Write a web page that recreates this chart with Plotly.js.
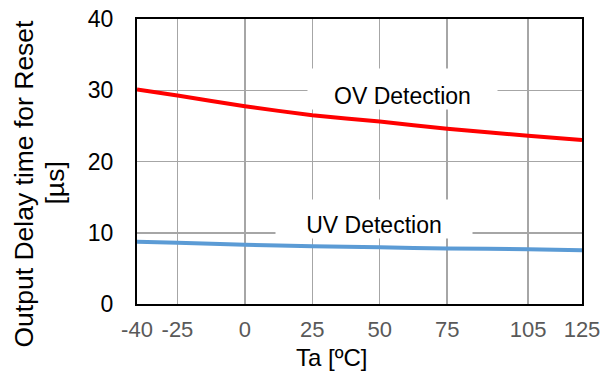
<!DOCTYPE html>
<html><head><meta charset="utf-8">
<script src="https://cdn.plot.ly/plotly-3.0.1.min.js"></script>
<style>html,body{margin:0;padding:0;background:#fff;}</style>
</head><body>
<div id="chart" style="width:606px;height:372px;"></div>
<script>
const temps = [-40, -25, 0, 25, 50, 75, 105, 125];
const ovDelay = [30.1, 29.25, 27.75, 26.5, 25.6, 24.6, 23.6, 23.0];
const uvDelay = [8.75, 8.6, 8.3, 8.1, 7.95, 7.8, 7.7, 7.55];
const xTickVals = [-40, -25, 0, 25, 50, 75, 105, 125];
const xTickText = ['-40', '-25', '0', '25', '50', '75', '105', '125'];
const yTickVals = [0, 10, 20, 30, 40];
const ovLabel = 'OV Detection';
const uvLabel = 'UV Detection';
const yTitleLine1 = 'Output Delay time for Reset';
const yTitleLine2 = '[µs]';
const xTitle = 'Ta [ºC]';

const font = 'Liberation Sans, Arial, sans-serif';
const traces = [
  {x: temps, y: ovDelay, type: 'scatter', mode: 'lines', line: {color: '#ff0000', width: 4, shape: 'spline', smoothing: 0.5}, hoverinfo: 'skip'},
  {x: temps, y: uvDelay, type: 'scatter', mode: 'lines', line: {color: '#5b9bd5', width: 4, shape: 'spline', smoothing: 0.5}, hoverinfo: 'skip'}
];
const layout = {
  width: 606, height: 372,
  margin: {l: 137, r: 24, t: 19, b: 68},
  paper_bgcolor: '#fff', plot_bgcolor: '#fff',
  showlegend: false,
  font: {family: font, size: 22, color: '#000'},
  xaxis: {
    range: [-40, 125], tickvals: xTickVals, ticktext: xTickText,
    showgrid: true, gridcolor: '#a6a6a6', gridwidth: 1.5,
    showline: true, linecolor: '#000', linewidth: 2, mirror: true,
    ticks: '', ticklabelstandoff: 5,
    tickfont: {family: font, size: 22, color: '#595959'},
    zeroline: false
  },
  yaxis: {
    range: [0, 40], tickvals: yTickVals,
    showgrid: true, gridcolor: '#a6a6a6', gridwidth: 1.5,
    showline: true, linecolor: '#000', linewidth: 2, mirror: true,
    ticks: '', ticklabelstandoff: 17,
    tickfont: {family: font, size: 23, color: '#000'},
    zeroline: false
  },
  annotations: [
    {x: 58.4, y: 30.15, xref: 'x', yref: 'y', text: ovLabel, showarrow: false, bgcolor: '#fff', width: 189, height: 40, borderpad: 0, valign: 'bottom', font: {family: font, size: 23, color: '#000'}},
    {x: 47.9, y: 11.93, xref: 'x', yref: 'y', text: uvLabel, showarrow: false, bgcolor: '#fff', width: 196, height: 38, borderpad: 0, valign: 'bottom', font: {family: font, size: 23, color: '#000'}},
    {x: (23 - 137) / 445, y: (304 - 183.5) / 285, xref: 'paper', yref: 'paper', xanchor: 'center', yanchor: 'middle', textangle: -90, text: yTitleLine1, showarrow: false, font: {family: font, size: 26.5, color: '#000'}},
    {x: (54 - 137) / 445, y: (304 - 183.5) / 285, xref: 'paper', yref: 'paper', xanchor: 'center', yanchor: 'middle', textangle: -90, text: yTitleLine2, showarrow: false, font: {family: font, size: 26.5, color: '#000'}},
    {x: (331 - 137) / 445, y: (304 - 357) / 285, xref: 'paper', yref: 'paper', xanchor: 'center', yanchor: 'middle', text: xTitle, showarrow: false, font: {family: font, size: 24, color: '#000'}}
  ]
};
Plotly.newPlot('chart', traces, layout, {displayModeBar: false, staticPlot: true});
</script>
</body></html>
